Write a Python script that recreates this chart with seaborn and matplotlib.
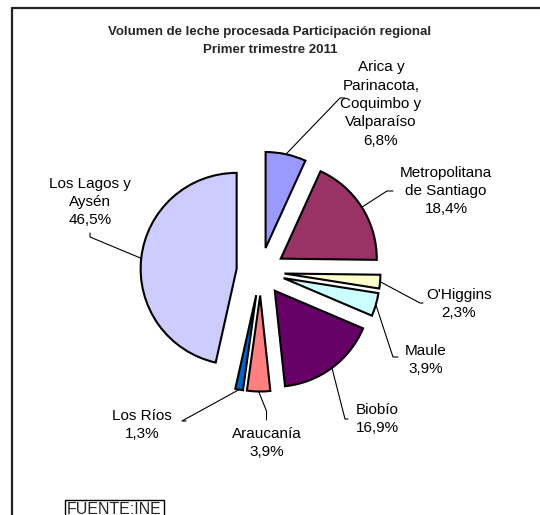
import numpy as np
import matplotlib.pyplot as plt
import seaborn as sns
from matplotlib.lines import Line2D

regiones = ["Arica y\nParinacota,\nCoquimbo y\nValparaíso", "Metropolitana\nde Santiago",
            "O'Higgins", "Maule", "Biobío", "Araucanía", "Los Ríos", "Los Lagos y\nAysén"]
participacion = [6.8, 18.4, 2.3, 3.9, 16.9, 3.9, 1.3, 46.5]
colores = ["#9999FF", "#993366", "#FFFFCC", "#CCFFFF", "#660066", "#FF8080", "#0066CC", "#CCCCFF"]

# label centre and leader elbow/end, in pixels from top-left
label_pos = [(381, 104), (446, 191), (459, 304), (426, 360), (377, 419), (267, 443), (142, 425), (90, 202)]
leaders = [[(340, 98), (345, 98)], [(387, 191), (393, 191)], [(420, 303), (423, 303)],
           [(393, 357), (398, 357)], [(345, 419), (348, 419)], [(266.5, 411), (266.5, 420)],
           [(182, 421), (186, 421)], [(90, 237), (90, 233)]]

W, H = 540, 515
cx, cy, R = 260.5, 271.5, 96

sns.set_theme(style="white")
plt.rcParams['font.family'] = ['Liberation Sans', 'DejaVu Sans']

fig = plt.figure(figsize=(W / 100, H / 100), dpi=100)
ax = fig.add_axes([0, 0, 1, 1])

wedges, _ = ax.pie(participacion, colors=colores, startangle=90, counterclock=False,
                   explode=[0.25] * len(participacion), radius=1,
                   wedgeprops=dict(edgecolor="black", linewidth=1.5))
ax.set_xlim(-cx / R, (W - cx) / R)
ax.set_ylim(-(H - cy) / R, cy / R)
ax.axis("off")


def p(px, py):
    return (px - cx) / R, (cy - py) / R


for w, reg, val, pos, lead in zip(wedges, regiones, participacion, label_pos, leaders):
    a = np.deg2rad((w.theta1 + w.theta2) / 2)
    x0 = w.center[0] + w.r * np.cos(a)
    y0 = w.center[1] + w.r * np.sin(a)
    xs = [x0] + [p(*q)[0] for q in lead]
    ys = [y0] + [p(*q)[1] for q in lead]
    ax.plot(xs, ys, color="black", lw=0.8)
    txt = reg + "\n" + f"{val:.1f}".replace(".", ",") + "%"
    ax.text(*p(*pos), txt, ha="center", va="center", fontsize=11, linespacing=1.4, color="black")

fig.text(270 / W, 1 - 41 / H, "Volumen de leche procesada Participación regional\nPrimer trimestre 2011",
         ha="center", va="center", fontsize=9.5, fontweight="bold", linespacing=1.7)

fig.add_artist(Line2D([12 / W, 12 / W], [0, 1 - 7.5 / H], transform=fig.transFigure, color="#222222", lw=1.6))
fig.add_artist(Line2D([12 / W, 1], [1 - 7.5 / H, 1 - 7.5 / H], transform=fig.transFigure, color="#222222", lw=1.6))

fig.text(67 / W, 1 - 509 / H, "FUENTE:INE", ha="left", va="center", fontsize=11.5,
         bbox=dict(boxstyle="square,pad=0.12", fc="white", ec="black", lw=1))

fig.savefig("out.png", dpi=100)
